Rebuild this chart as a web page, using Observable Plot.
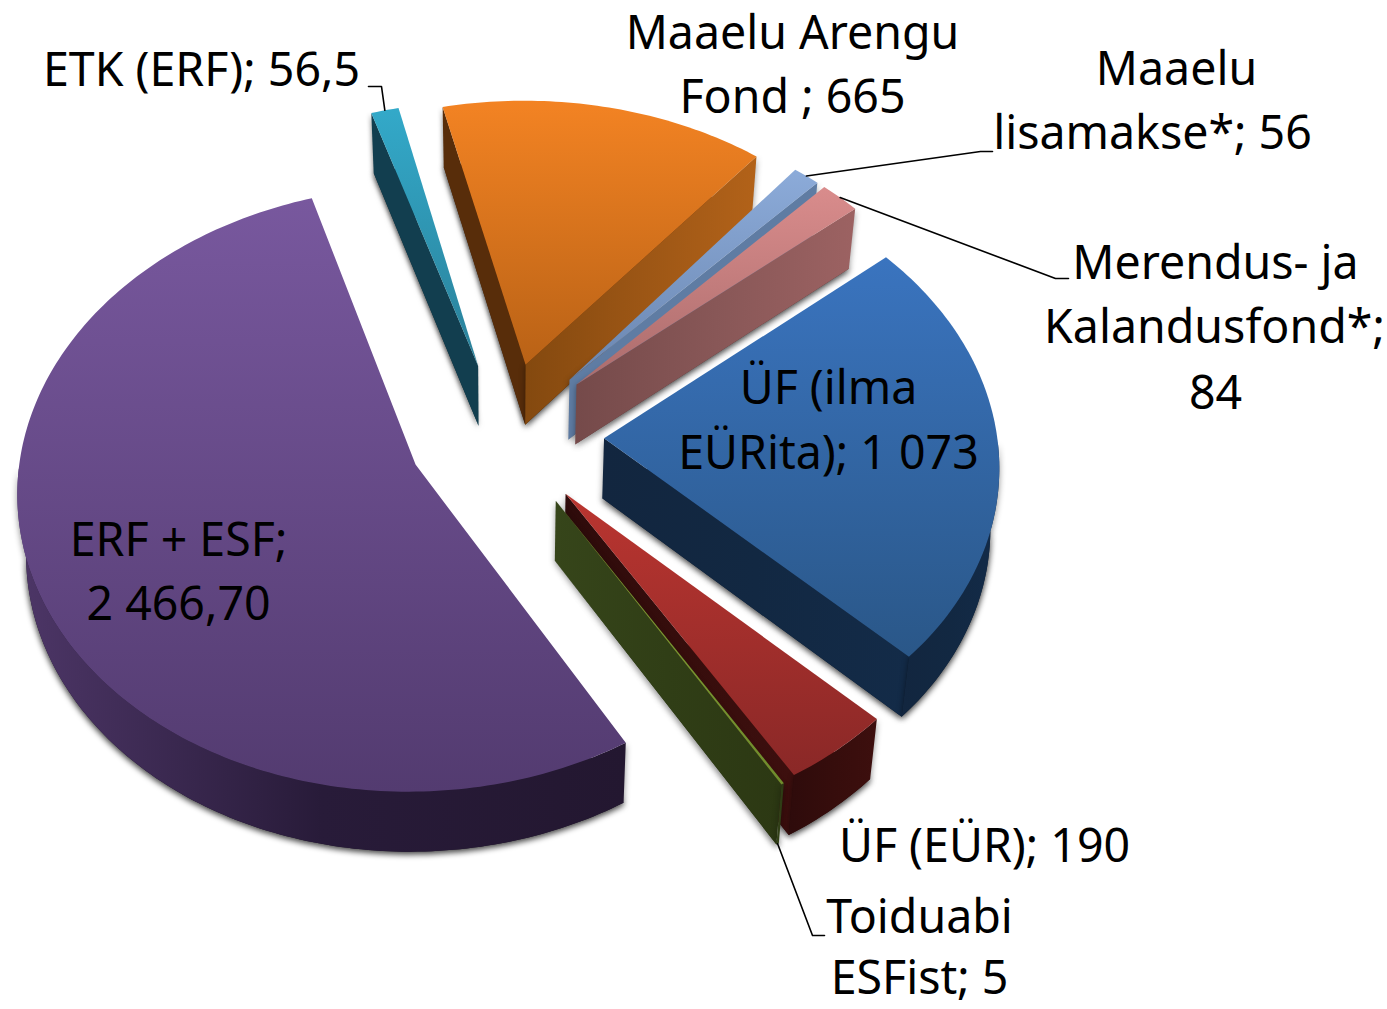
<!DOCTYPE html>
<html><head><meta charset="utf-8">
<style>html,body{margin:0;padding:0;background:#fff}svg{display:block}</style>
<script src="https://cdn.jsdelivr.net/npm/d3@7"></script>
<script src="https://cdn.jsdelivr.net/npm/@observablehq/plot@0.6"></script>
</head><body><div id="chart"></div>
<script>
// Data: clockwise from the purple slice's start edge
const names = ["ERF + ESF","ETK (ERF)","Maaelu Arengu Fond","Maaelu lisamakse*","Merendus- ja Kalandusfond*","ÜF (ilma EÜRita)","ÜF (EÜR)","Toiduabi ESFist"];
const values = [2466.7,56.5,665,56,84,1073,190,5];
// top-face gradient, wall gradient (left→right), radial wall colour
const topTop   = ["#78589e","#33a9c9","#f38323","#8cabd9","#d98c8c","#3a74bf","#ba3530","#7fa034"];
const topBot   = ["#533b70","#2a8099","#b96216","#6a86b0","#ab6c6c","#2a5788","#8a2827","#6f8c2c"];
const wallL    = ["#4d3667","#123a4b","#84490f","#5f7ca3","#754a4a","#12263f","#2e0b0b","#36451a"];
const wallM    = ["#281b39","#103642","#9c5615","#5f7ca3","#885757","#122842","#360d0c","#303e16"];
const wallR    = ["#231730","#0f3341","#b26219","#5f7ca3","#9c6262","#132b48","#3d0f0e","#2c3813"];
const radial   = ["#2a1d3b","#123e4f","#582d0a","#5a7599","#7a4d4d","#122640","#3f0f0f","#344318"];
// drawing order, back to front (indices into the arrays above)
const drawOrder = [2,1,3,4,5,0,6,7];
// Per-slice explosion and horizontal radius
const explodeBy = [0.24,0.248,0.25,0.255,0.255,0.2526,0.247,0.252];
const radiusX = [0.988,1,1,0.985,0.985,0.9874,1,1];

// Label lines
const labelText = ["ETK (ERF); 56,5","Maaelu Arengu","Fond ; 665","Maaelu","lisamakse*; 56","Merendus- ja","Kalandusfond*;","84","ÜF (ilma","EÜRita); 1 073","ERF + ESF;","2 466,70","ÜF (EÜR); 190","Toiduabi","ESFist; 5"];
const labelX = [201,792,792,1176,1152,1215,1214,1215,828,828,178,178,984,919,919];
const labelY = [71,34,98,70,134,264,328,394,389,454,541,605,847,918,979];
// leader: slice index, rim level, elbow and end
const leaderSlice = [1,3,4,7];
const leaderLevel = [0,0,0,1];
const leaderElbowX = [381,980,1055,812];
const leaderElbowY = [86,151,278,935];
const leaderEndX = [368,992,1068,824];
const leaderEndY = [86,151,278,935];

// Projection parameters of the 3-D pie
const cx=503, cy=435, A=398, B=296, k=0.08, wallH=60, shrink=0.018, startDeg=149.4;

const pie = d3.pie().sort(null).startAngle(startDeg*Math.PI/180).endAngle((startDeg+360)*Math.PI/180)(values);
pie.forEach((p,i)=>{p.rx=radiusX[i];p.e=explodeBy[i];});
function proj(u,v,z){const s=1/(1+k*v);return {x:cx+A*u*s*(1-shrink*z),y:cy-B*v*s+wallH*z};}
function rim(p,th,r,z){const m=(p.startAngle+p.endAngle)/2;
  return proj(p.e*Math.sin(m)+r*p.rx*Math.sin(th),p.e*Math.cos(m)+r*Math.cos(th),z);}
function arcAngles(p){const n=Math.max(2,Math.ceil((p.endAngle-p.startAngle)*60));
  return d3.range(n+1).map(i=>p.startAngle+(p.endAngle-p.startAngle)*i/n);}

const poly=(pts,fill,extra={})=>Plot.line(pts,{x:"x",y:"y",fill,stroke:"none",...extra});
const marks=[];
for(const i of drawOrder){
  const p=pie[i];
  const ths=arcAngles(p);
  const apex0=rim(p,0,0,0), apex1=rim(p,0,0,1);
  const a0=ths.map(t=>rim(p,t,1,0)), a1=ths.map(t=>rim(p,t,1,1));
  const s0=a0[0], s1=a1[0], e0=a0[a0.length-1], e1=a1[a1.length-1];
  // bottom face casts the soft shadow
  marks.push(poly([apex1,...a1],radial[i],{imageFilter:"drop-shadow(0px 2px 3px rgba(0,0,0,.55))"}));
  if(s0.x<apex0.x) marks.push(poly([apex0,s0,s1,apex1],radial[i],{imageFilter:"drop-shadow(-1px 1px 2px rgba(0,0,0,.4))"}));
  if(e0.x>apex0.x) marks.push(poly([apex0,e0,e1,apex1],`url(#w${i})`,{imageFilter:"drop-shadow(0px 2px 3px rgba(0,0,0,.4))"}));
  const vis=ths.filter(t=>Math.cos(t)<0);
  if(vis.length>1){
    const f0=vis.map(t=>rim(p,t,1,0)), f1=vis.map(t=>rim(p,t,1,1));
    marks.push(poly([...f0,...f1.reverse()],`url(#w${i})`,{imageFilter:"drop-shadow(0px 2px 3px rgba(0,0,0,.45))"}));
  }
  marks.push(poly([apex0,...a0],`url(#t${i})`));
}
// leaders
leaderSlice.forEach((si,j)=>{
  const p=pie[si], m=(p.startAngle+p.endAngle)/2, s=rim(p,m,1,leaderLevel[j]);
  marks.push(Plot.line([s,{x:leaderElbowX[j],y:leaderElbowY[j]},{x:leaderEndX[j],y:leaderEndY[j]}],{x:"x",y:"y",stroke:"#000",strokeWidth:1.6}));
});
marks.push(Plot.text(labelText,{x:(d,i)=>labelX[i],y:(d,i)=>labelY[i],text:d=>d,fill:"#000",fontSize:46.5,fontFamily:"'Noto Sans', Lato, sans-serif",textAnchor:"middle",lineAnchor:"middle"}));

const svg=Plot.plot({width:1387,height:1009,margin:0,
  x:{domain:[0,1387],range:[0,1387],axis:null},
  y:{domain:[0,1009],range:[0,1009],axis:null},
  style:{background:"#fff",overflow:"visible"},marks});
const ns="http://www.w3.org/2000/svg";
const defs=document.createElementNS(ns,"defs");
function grad(id,x2,y2,stops){const g=document.createElementNS(ns,"linearGradient");
  g.setAttribute("id",id);g.setAttribute("x1",0);g.setAttribute("y1",0);g.setAttribute("x2",x2);g.setAttribute("y2",y2);
  stops.forEach((c,j)=>{const s=document.createElementNS(ns,"stop");s.setAttribute("offset",j/(stops.length-1));s.setAttribute("stop-color",c);g.appendChild(s);});
  defs.appendChild(g);}
values.forEach((_,i)=>{grad("t"+i,0,1,[topTop[i],topBot[i]]);grad("w"+i,1,0,[wallL[i],wallM[i],wallR[i]]);});
svg.insertBefore(defs,svg.firstChild);
document.getElementById("chart").appendChild(svg);
</script></body></html>
